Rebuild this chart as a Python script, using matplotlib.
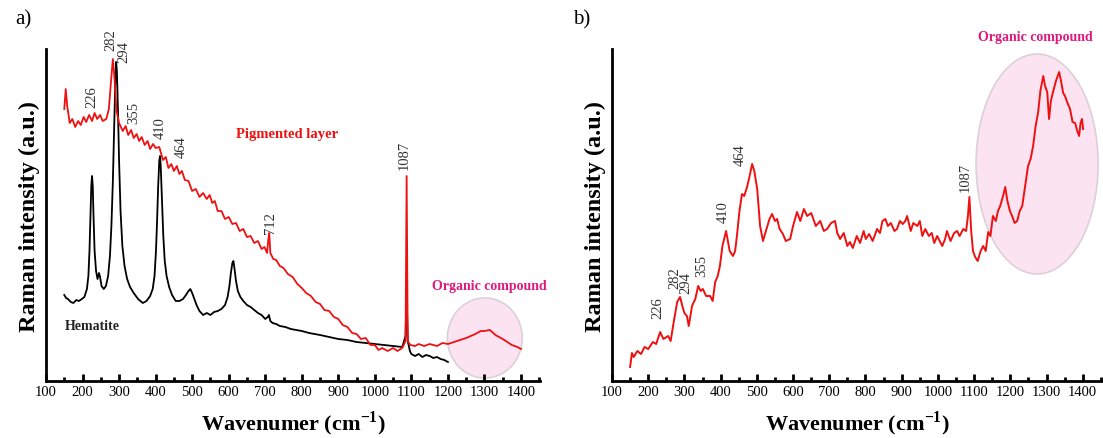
import matplotlib
matplotlib.use("Agg")
import matplotlib.pyplot as plt
from matplotlib.patches import Ellipse
from matplotlib.ticker import MultipleLocator

plt.rcParams['font.family'] = ['Liberation Serif', 'DejaVu Serif']
plt.rcParams['mathtext.fontset'] = 'custom'
plt.rcParams['mathtext.rm'] = 'Liberation Serif'
plt.rcParams['mathtext.bf'] = 'Liberation Serif:bold'

# ---------------- data: panel a, hematite reference ----------------
hem_wn = [150, 155, 160, 168, 175, 183, 190, 198, 205, 212, 216, 219, 222, 224, 226, 228,
          230, 233, 237, 241, 245, 248, 252, 258, 264, 270, 275, 279, 283, 287, 290, 292,
          294, 297, 300, 304, 309, 315, 322, 330, 340, 352, 365, 375, 385, 392, 397, 401,
          404, 407, 410, 412, 414, 417, 421, 425, 430, 437, 445, 455, 465, 475, 483, 490,
          495, 500, 505, 512, 520, 530, 540, 550, 560, 570, 580, 590, 597, 602, 606, 610,
          613, 616, 620, 625, 632, 640, 650, 660, 670, 680, 690, 700, 707, 710, 714, 720,
          730, 740, 755, 770, 785, 800, 820, 850, 875, 900, 925, 950, 975, 1000, 1025, 1050,
          1075, 1084, 1087, 1090, 1096, 1100, 1110, 1120, 1130, 1140, 1150, 1160, 1170, 1180, 1190, 1200]
hem_int = [86, 83, 82, 79, 78, 81, 80, 82, 84, 92, 105, 130, 170, 195, 205, 195,
           165, 130, 110, 102, 108, 104, 95, 92, 95, 105, 125, 155, 200, 260, 305, 319,
           310, 270, 220, 170, 135, 115, 102, 94, 88, 82, 78, 80, 85, 92, 105, 130,
           160, 195, 220, 225, 215, 185, 145, 120, 105, 94, 86, 80, 80, 82, 86, 90,
           92, 88, 83, 76, 70, 66, 68, 66, 69, 70, 72, 76, 84, 95, 108, 118,
           120, 112, 100, 90, 84, 80, 76, 74, 71, 68, 66, 62, 64, 66, 60, 58,
           57, 55, 54, 52, 51, 50, 48, 46, 44, 42, 41, 39, 38, 37, 36, 35,
           34, 45, 90, 40, 30, 27, 25, 27, 24, 26, 25, 23, 24, 22, 21, 19]

# ---------------- data: panel a, pigmented layer ----------------
pig_wn = [150, 154, 158, 165, 172, 180, 188, 195, 203, 210, 218, 226, 233, 240, 248, 255,
          265, 272, 278, 283, 288, 293, 300, 305, 310, 318, 325, 333, 340, 348, 355, 362,
          370, 378, 385, 393, 400, 410, 420, 428, 435, 443, 450, 458, 465, 472, 480, 490,
          500, 510, 520, 530, 540, 548, 555, 562, 570, 580, 590, 600, 610, 620, 630, 640,
          650, 660, 670, 680, 690, 698, 705, 708, 711, 714, 722, 730, 740, 750, 762, 775,
          788, 800, 812, 825, 838, 850, 862, 875, 888, 900, 912, 925, 938, 950, 962, 975,
          988, 1000, 1010, 1020, 1035, 1050, 1062, 1075, 1084, 1087, 1090, 1097, 1110, 1120, 1135, 1150,
          1170, 1185, 1200, 1225, 1250, 1275, 1290, 1300, 1315, 1330, 1350, 1375, 1390, 1400]
pig_int = [272, 292, 275, 258, 262, 254, 260, 256, 264, 259, 266, 260, 268, 262, 266, 260,
           262, 272, 300, 322, 300, 270, 258, 254, 250, 255, 246, 251, 243, 247, 240, 244,
           236, 240, 232, 237, 233, 234, 221, 224, 213, 217, 210, 215, 207, 210, 201, 200,
           190, 192, 184, 188, 182, 186, 178, 180, 170, 170, 162, 164, 157, 158, 150, 152,
           144, 145, 138, 140, 132, 134, 128, 140, 148, 128, 122, 121, 115, 113, 107, 104,
           97, 93, 88, 85, 79, 77, 71, 70, 64, 62, 56, 54, 48, 47, 42, 43,
           36, 36, 31, 33, 30, 33, 30, 33, 40, 205, 40, 36, 35, 37, 35, 37,
           35, 38, 37, 40, 43, 47, 50, 50, 51, 46, 42, 36, 34, 32]

# ---------------- data: panel b ----------------
b_wn = [150, 155, 160, 170, 180, 190, 200, 213, 222, 233, 242, 255, 262, 270, 280, 288,
        295, 300, 307, 312, 321, 330, 338, 345, 351, 360, 371, 378, 385, 392, 398, 405,
        415, 425, 434, 440, 445, 452, 459, 465, 473, 480, 487, 493, 501, 509, 517, 525,
        535, 542, 550, 556, 563, 572, 580, 592, 600, 611, 620, 630, 639, 650, 663, 675,
        685, 694, 705, 716, 722, 730, 740, 750, 757, 765, 776, 785, 795, 801, 810, 820,
        832, 840, 847, 855, 862, 870, 880, 887, 895, 903, 910, 915, 925, 932, 943, 950,
        957, 965, 975, 983, 990, 998, 1005, 1012, 1020, 1025, 1035, 1045, 1053, 1060, 1070, 1078,
        1083, 1087, 1092, 1097, 1103, 1110, 1118, 1125, 1132, 1139, 1145, 1152, 1160, 1166, 1172, 1180,
        1186, 1192, 1199, 1205, 1212, 1219, 1226, 1233, 1241, 1249, 1256, 1263, 1270, 1277, 1283, 1291,
        1296, 1302, 1307, 1312, 1318, 1326, 1335, 1340, 1346, 1351, 1358, 1365, 1372, 1379, 1385, 1390,
        1394, 1398, 1401]
b_int = [14, 28, 24, 30, 27, 34, 32, 39, 37, 49, 42, 45, 40, 58, 79, 84,
         74, 68, 65, 55, 75, 82, 95, 90, 92, 85, 85, 80, 99, 105, 115, 135,
         150, 130, 125, 130, 145, 170, 187, 185, 194, 205, 217, 210, 192, 155, 140, 150,
         162, 167, 160, 162, 152, 147, 140, 142, 155, 169, 160, 172, 165, 168, 155, 160,
         150, 152, 158, 160, 148, 142, 148, 135, 139, 133, 145, 138, 150, 142, 147, 140,
         152, 148, 160, 162, 155, 158, 150, 152, 160, 157, 160, 165, 150, 158, 155, 160,
         145, 152, 145, 148, 138, 145, 140, 135, 142, 150, 140, 148, 150, 145, 152, 150,
         165, 184, 150, 130, 124, 120, 130, 135, 130, 149, 145, 165, 160, 170, 175, 185,
         194, 180, 170, 165, 158, 160, 170, 175, 195, 215, 222, 235, 255, 269, 290, 305,
         295, 289, 262, 280, 289, 300, 309, 300, 288, 285, 278, 272, 259, 258, 250, 245,
         258, 262, 252]

# ---------------- peak labels ----------------
a_peak_text = ["226", "282", "294", "355", "410", "464", "712", "1087"]
a_peak_x = [226, 277, 313, 340, 414, 469, 715, 1081]
a_peak_y = [285, 342, 330, 269, 254, 235, 159, 227]

b_peak_text = ["226", "282", "294", "355", "410", "464", "1087"]
b_peak_x = [227, 274, 304, 349, 407, 454, 1075]
b_peak_y = [74, 104, 99, 116, 170, 227, 205]

xticks = list(range(100, 1401, 100))

# ---------------- styling ----------------
RED = '#ee1111'
PINK_TXT = '#e0197d'
W, H = 1103, 439
fig = plt.figure(figsize=(W / 100, H / 100), dpi=100)
ax_a = fig.add_axes([46 / W, 57 / H, (540 - 46) / W, 332 / H])
ax_b = fig.add_axes([612 / W, 57 / H, (1103 - 612) / W, 332 / H])


def style(ax, xmax):
    ax.set_xlim(100, xmax)
    ax.set_ylim(0, 332)
    for s in ['top', 'right']:
        ax.spines[s].set_visible(False)
    for s in ['left', 'bottom']:
        ax.spines[s].set_linewidth(2.0)
    ax.set_yticks([])
    ax.set_xticks(xticks)
    ax.xaxis.set_minor_locator(MultipleLocator(50))
    ax.tick_params(axis='x', which='major', direction='in', length=5, width=2,
                   labelsize=10.5, pad=3)
    ax.tick_params(axis='x', which='minor', direction='in', length=3, width=2)
    ax.set_xlabel('Wavenumer (cm$^{\\mathbf{-1}}$)', fontsize=16, fontweight='bold',
                  labelpad=7)
    ax.set_ylabel('Raman intensity (a.u.)', fontsize=17.5, fontweight='bold', labelpad=4)
    ax.patch.set_alpha(0)


style(ax_a, 1452)
style(ax_b, 1456)

# panel a
ax_a.add_patch(Ellipse((1301, 43), 205, 80, facecolor='#fce3f1', edgecolor='#dcd0d8',
                       lw=1.2, zorder=1))
ax_a.plot(hem_wn, hem_int, color='black', lw=1.3, zorder=2)
ax_a.plot(pig_wn, pig_int, color=RED, lw=1.3, zorder=3)
for t, x, y in zip(a_peak_text, a_peak_x, a_peak_y):
    ax_a.text(x, y, t, rotation=90, ha='center', va='center', fontsize=10.5,
              color='#333333', clip_on=False)
ax_a.text(761, 247, 'Pigmented layer', color=RED, fontsize=10.5, fontweight='bold',
          ha='center', va='center')
ax_a.text(152, 55, 'Hematite', color='#222222', fontsize=10, fontweight='bold',
          ha='left', va='center')
ax_a.text(1313, 95, 'Organic compound', color=PINK_TXT, fontsize=10, fontweight='bold',
          ha='center', va='center')

# panel b
ax_b.add_patch(Ellipse((1274, 217), 337, 220, facecolor='#fce3f1', edgecolor='#dcd0d8',
                       lw=1.2, zorder=1))
ax_b.plot(b_wn, b_int, color=RED, lw=1.4, zorder=3)
for t, x, y in zip(b_peak_text, b_peak_x, b_peak_y):
    ax_b.text(x, y, t, rotation=90, ha='center', va='center', fontsize=10.5,
              color='#333333', clip_on=False)
ax_b.text(1268, 345, 'Organic compound', color=PINK_TXT, fontsize=10, fontweight='bold',
          ha='center', va='center', clip_on=False)

fig.text(15 / W, 1 - 20 / H, 'a)', fontsize=15, ha='left', va='center')
fig.text(573 / W, 1 - 20 / H, 'b)', fontsize=15, ha='left', va='center')

fig.savefig('out.png', dpi=100, facecolor='white')
